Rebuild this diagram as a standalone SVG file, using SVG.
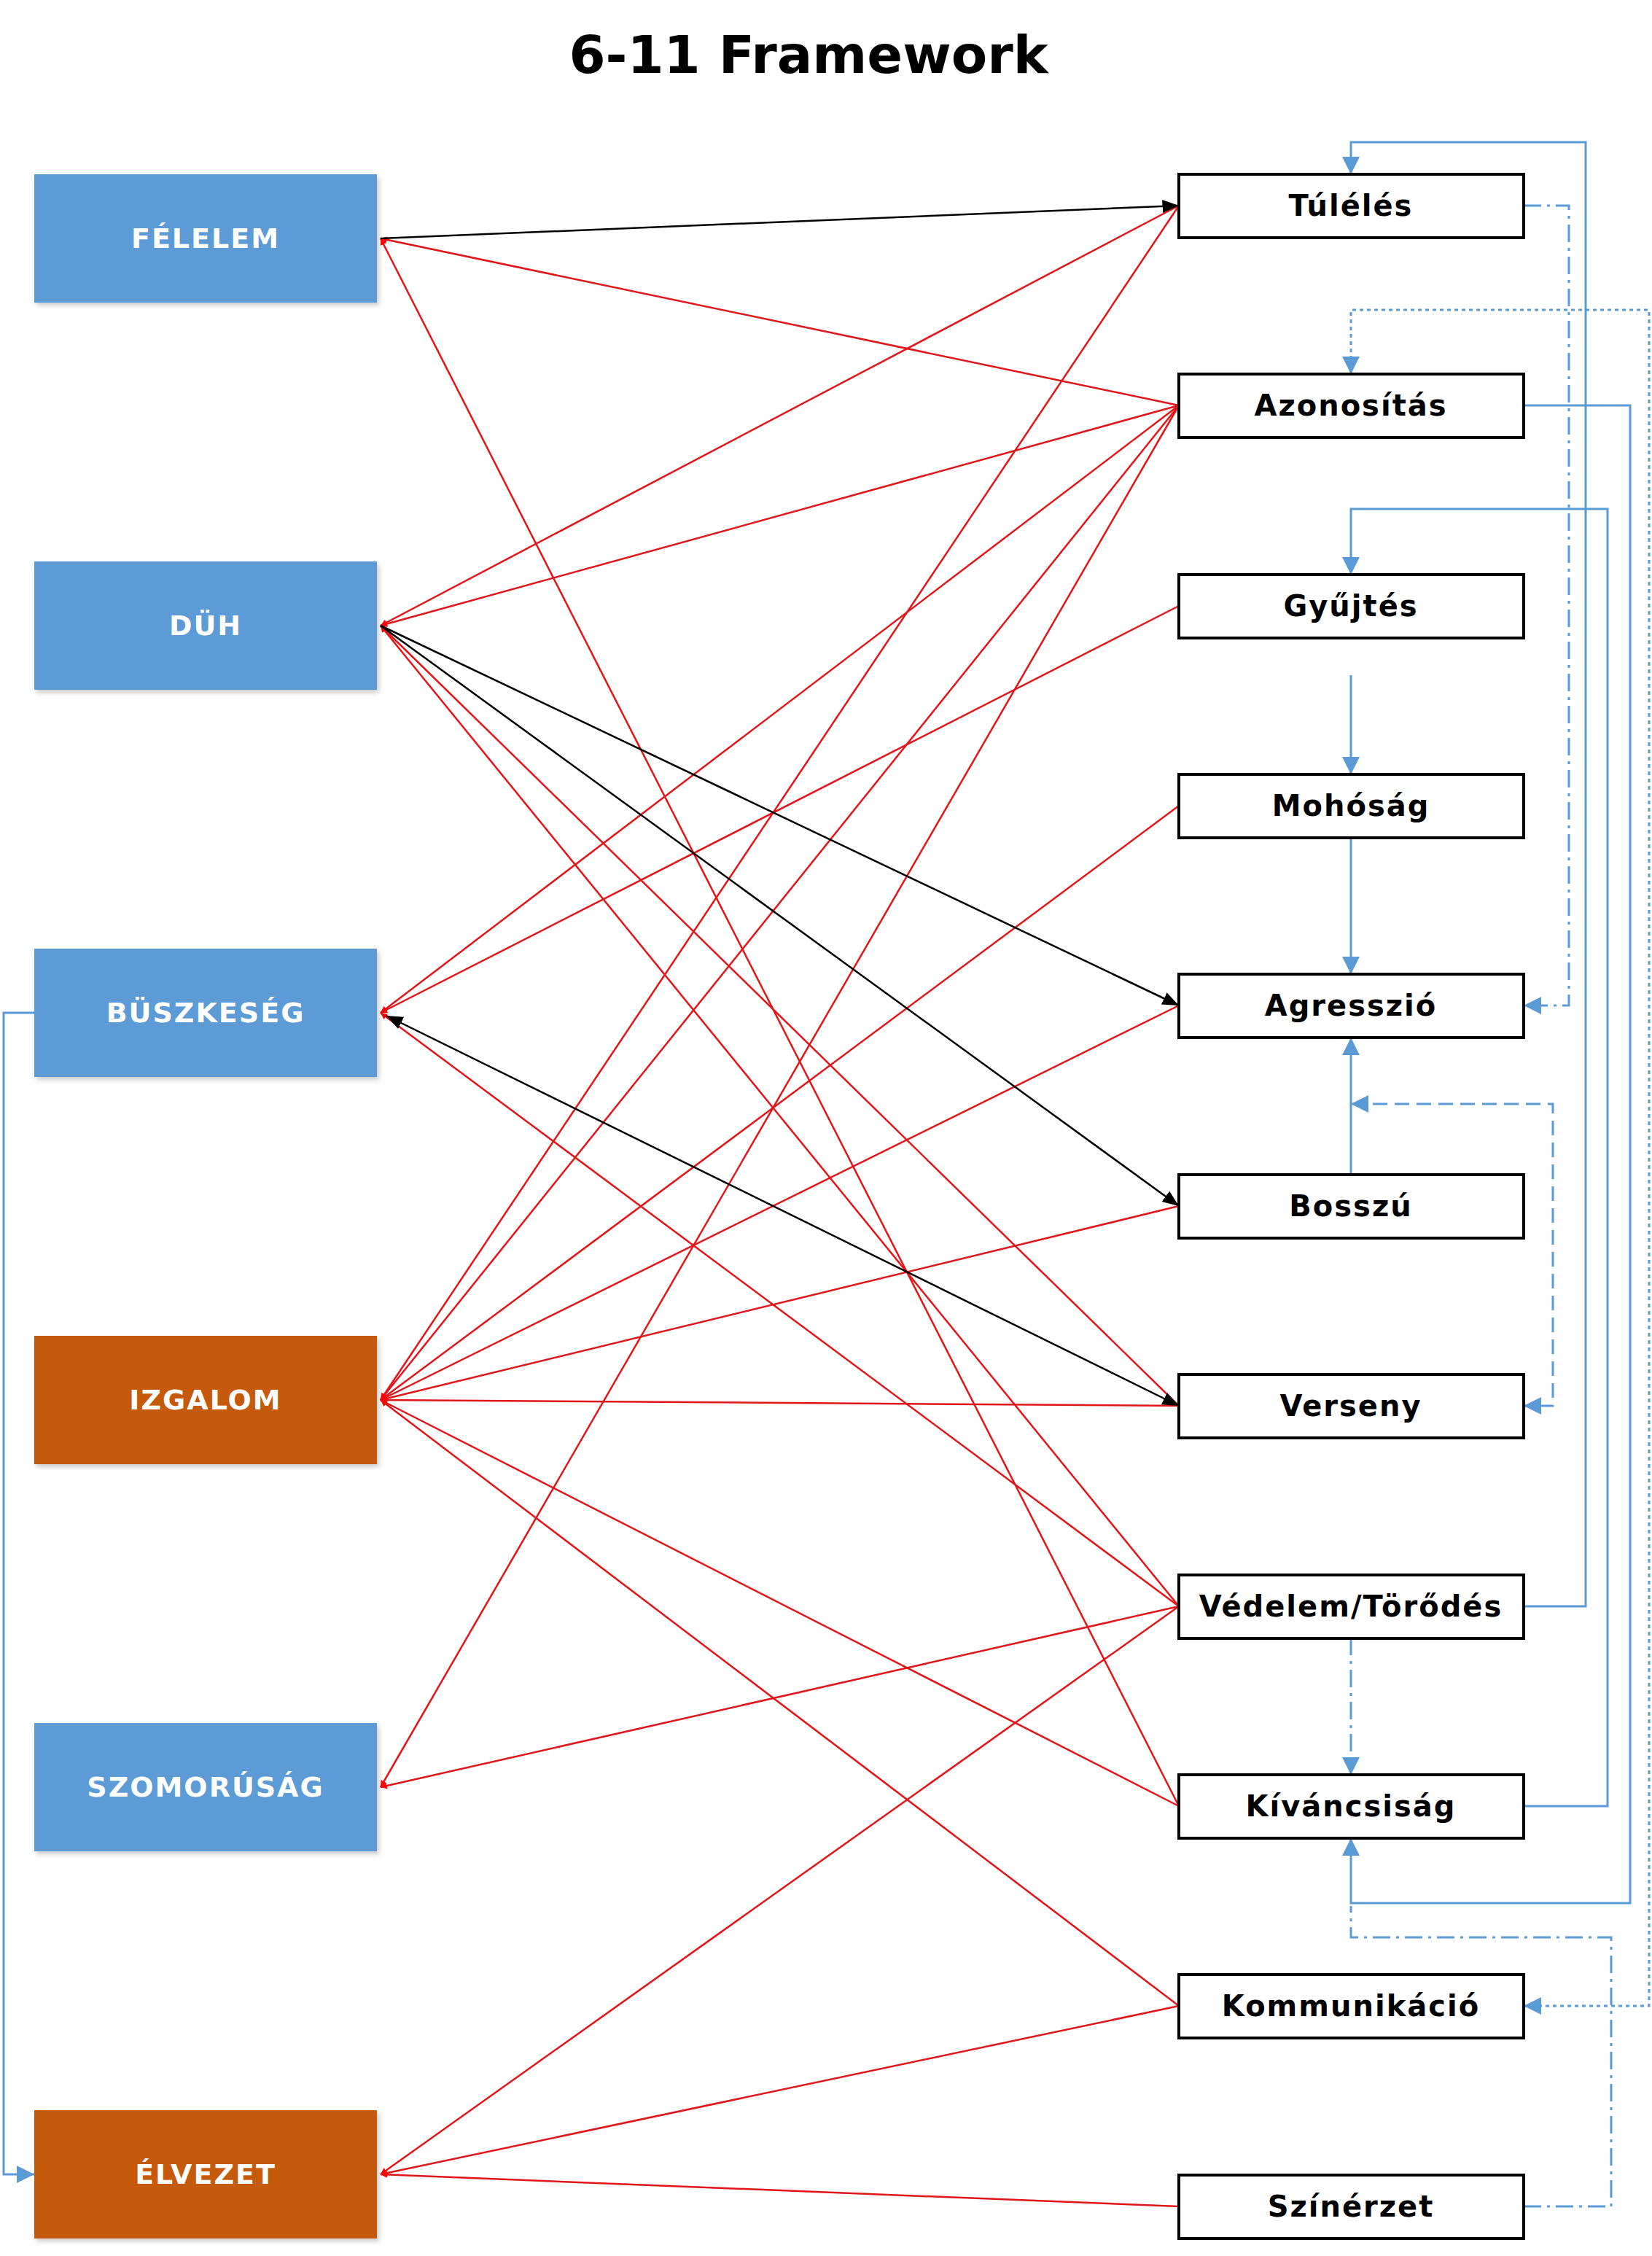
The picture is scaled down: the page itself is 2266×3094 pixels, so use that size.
<svg xmlns="http://www.w3.org/2000/svg" width="2266" height="3094" viewBox="0 0 2266 3094">
<style>
.lb rect{stroke:none}
.lb text{fill:#fff;font:bold 38px "DejaVu Sans",sans-serif;letter-spacing:2px;text-anchor:middle;dominant-baseline:central}
.rb rect{fill:#fff;stroke:#000;stroke-width:4}
.rb text{fill:#000;font:bold 40px "DejaVu Sans",sans-serif;letter-spacing:2px;text-anchor:middle;dominant-baseline:central}
.r{stroke:#E0161A;stroke-width:2.5;fill:none;marker-start:url(#ar)}
.k{stroke:#000;stroke-width:2.5;fill:none;marker-end:url(#ak)}
.b{stroke:#5B9BD5;stroke-width:3;fill:none}
</style>
<defs>
<marker id="ar" viewBox="0 0 10 10" refX="10" refY="5" markerWidth="9" markerHeight="9" markerUnits="userSpaceOnUse" orient="auto-start-reverse"><path d="M0,0L10,5L0,10z" fill="#f00"/></marker>
<marker id="ak" viewBox="0 0 10 10" refX="10" refY="5" markerWidth="9" markerHeight="9" orient="auto-start-reverse"><path d="M0,1L10,5L0,9z" fill="#000"/></marker>
<marker id="ab" viewBox="0 0 10 10" refX="10" refY="5" markerWidth="8" markerHeight="8" orient="auto-start-reverse"><path d="M0,0L10,5L0,10z" fill="#5B9BD5"/></marker>
<filter id="sh"><feDropShadow dx="3" dy="4" stdDeviation="3" flood-color="#000" flood-opacity="0.2"/></filter>
</defs>
<rect width="2266" height="3094" fill="#fff"/>
<text x="1109" y="100" font-family="DejaVu Sans, sans-serif" font-weight="bold" font-size="72" text-anchor="middle">6-11 Framework</text>

<g id="connectors">
<path class="r" d="M522,327L1617,556"/>
<path class="r" d="M522,327L1617,2477"/>
<path class="r" d="M522,858L1617,282"/>
<path class="r" d="M522,858L1617,556"/>
<path class="r" d="M522,858L1617,1928"/>
<path class="r" d="M522,858L1617,2203"/>
<path class="r" d="M522,1389L1617,556"/>
<path class="r" d="M522,1389L1617,831"/>
<path class="r" d="M522,1389L1617,2203"/>
<path class="r" d="M522,1920L1617,282"/>
<path class="r" d="M522,1920L1617,556"/>
<path class="r" d="M522,1920L1617,1105"/>
<path class="r" d="M522,1920L1617,1379"/>
<path class="r" d="M522,1920L1617,1654"/>
<path class="r" d="M522,1920L1617,1928"/>
<path class="r" d="M522,1920L1617,2477"/>
<path class="r" d="M522,1920L1617,2751"/>
<path class="r" d="M522,2451L1617,556"/>
<path class="r" d="M522,2451L1617,2203"/>
<path class="r" d="M522,2982L1617,2203"/>
<path class="r" d="M522,2982L1617,2751"/>
<path class="r" d="M522,2982L1617,3026"/>
<path class="k" d="M522,327L1617,282"/>
<path class="k" d="M522,858L1617,1379"/>
<path class="k" d="M522,858L1617,1654"/>
<path class="k" d="M530,1393L1617,1928" marker-start="url(#ak)"/>
<path class="b" stroke-width="4.5" d="M2090,2203H2175V195H1853V239" marker-end="url(#ab)"/>
<path class="b" d="M2090,556H2236V2610H1853V2521" marker-end="url(#ab)"/>
<path class="b" d="M2090,2477H2205V698H1853V788" marker-end="url(#ab)"/>
<path class="b" d="M1853,926V1062" marker-end="url(#ab)"/>
<path class="b" d="M1853,1149V1336" marker-end="url(#ab)"/>
<path class="b" d="M1853,1611V1423" marker-end="url(#ab)"/>
<path class="b" stroke-dasharray="24,8,4,8" d="M2090,282H2152V1379H2090" marker-end="url(#ab)"/>
<path class="b" stroke-dasharray="20,10" d="M1853,1514H2130V1928H2090" marker-start="url(#ab)" marker-end="url(#ab)"/>
<path class="b" stroke-dasharray="5,5" d="M1853,513V425H2262V2751H2090" marker-start="url(#ab)" marker-end="url(#ab)"/>
<path class="b" stroke-dasharray="24,8,4,8" d="M2090,3026H2210V2657H1853V2614"/>
<path class="b" stroke-dasharray="24,8,4,8" d="M1853,2246V2434" marker-end="url(#ab)"/>
<path class="b" stroke-width="2" d="M47,1389H5V2982H47" marker-end="url(#ab)"/>
</g>

<g id="n-felelem" class="lb"><rect x="47" y="239" width="470" height="176" fill="#5B9BD5" filter="url(#sh)"/><text x="282" y="327">FÉLELEM</text></g>
<g id="n-duh" class="lb"><rect x="47" y="770" width="470" height="176" fill="#5B9BD5" filter="url(#sh)"/><text x="282" y="858">DÜH</text></g>
<g id="n-buszkeseg" class="lb"><rect x="47" y="1301" width="470" height="176" fill="#5B9BD5" filter="url(#sh)"/><text x="282" y="1389">BÜSZKESÉG</text></g>
<g id="n-izgalom" class="lb"><rect x="47" y="1832" width="470" height="176" fill="#C55A11" filter="url(#sh)"/><text x="282" y="1920">IZGALOM</text></g>
<g id="n-szomorusag" class="lb"><rect x="47" y="2363" width="470" height="176" fill="#5B9BD5" filter="url(#sh)"/><text x="282" y="2451">SZOMORÚSÁG</text></g>
<g id="n-elvezet" class="lb"><rect x="47" y="2894" width="470" height="176" fill="#C55A11" filter="url(#sh)"/><text x="282" y="2982">ÉLVEZET</text></g>

<g id="n-tuleles" class="rb"><rect x="1617" y="239" width="473" height="87"/><text x="1853" y="282">Túlélés</text></g>
<g id="n-azonositas" class="rb"><rect x="1617" y="513" width="473" height="87"/><text x="1853" y="556">Azonosítás</text></g>
<g id="n-gyujtes" class="rb"><rect x="1617" y="788" width="473" height="87"/><text x="1853" y="831">Gyűjtés</text></g>
<g id="n-mohosag" class="rb"><rect x="1617" y="1062" width="473" height="87"/><text x="1853" y="1105">Mohóság</text></g>
<g id="n-agresszio" class="rb"><rect x="1617" y="1336" width="473" height="87"/><text x="1853" y="1379">Agresszió</text></g>
<g id="n-bosszu" class="rb"><rect x="1617" y="1611" width="473" height="87"/><text x="1853" y="1654">Bosszú</text></g>
<g id="n-verseny" class="rb"><rect x="1617" y="1885" width="473" height="87"/><text x="1853" y="1928">Verseny</text></g>
<g id="n-vedelem" class="rb"><rect x="1617" y="2160" width="473" height="87"/><text x="1853" y="2203">Védelem/Törődés</text></g>
<g id="n-kivancsisag" class="rb"><rect x="1617" y="2434" width="473" height="87"/><text x="1853" y="2477">Kíváncsiság</text></g>
<g id="n-kommunikacio" class="rb"><rect x="1617" y="2708" width="473" height="87"/><text x="1853" y="2751">Kommunikáció</text></g>
<g id="n-szinerzet" class="rb"><rect x="1617" y="2983" width="473" height="87"/><text x="1853" y="3026">Színérzet</text></g>
</svg>
